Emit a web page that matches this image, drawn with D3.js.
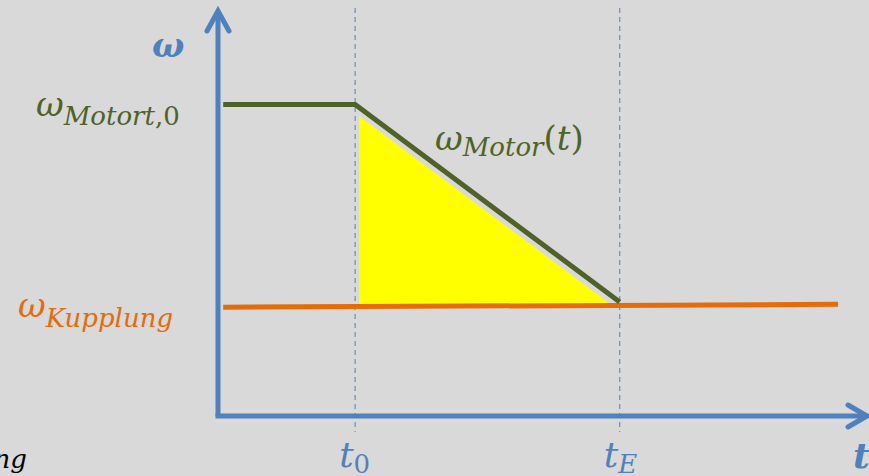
<!DOCTYPE html>
<html>
<head>
<meta charset="utf-8">
<script src="https://cdn.jsdelivr.net/npm/d3@7"></script>
<style>
  body { margin: 0; background: #d9d9d9; }
  text { font-family: "DejaVu Serif", serif; font-style: italic; }
</style>
</head>
<body>
<div id="chart"></div>
<script>
// Data (abstract units, 0..1 on both axes)
const markTimes = [0.211, 0.618];          // t0, tE
const markLabels = ["0", "E"];             // subscripts of t
const motorT = [0.008, 0.211, 0.618];
const motorW = [0.767, 0.767, 0.281];
const kupplungT = [0.008, 0.954];
const kupplungW = [0.268, 0.275];
const areaT = [0.217, 0.217, 0.606];
const areaW = [0.739, 0.273, 0.273];

const width = 869, height = 476;
const blue = "#4f81bd", green = "#4f6228", orange = "#e46c0a";

const svg = d3.select("#chart")
    .append("svg")
    .attr("width", width)
    .attr("height", height);

svg.append("rect").attr("width", width).attr("height", height).attr("fill", "#d9d9d9");

// scales
const x = d3.scaleLinear().domain([0, 1]).range([218, 868]);
const y = d3.scaleLinear().domain([0, 1]).range([416, 10]);

const line = d3.line().x(d => x(d[0])).y(d => y(d[1]));

// dashed guide lines at t0, tE
svg.selectAll("line.guide")
    .data(markTimes)
    .join("line")
    .attr("class", "guide")
    .attr("x1", d => x(d)).attr("x2", d => x(d))
    .attr("y1", 8).attr("y2", 432)
    .attr("stroke", "#7193c6")
    .attr("stroke-width", 1.3)
    .attr("stroke-dasharray", "5,4");

// yellow area
svg.append("path")
    .attr("d", line(d3.zip(areaT, areaW)) + "Z")
    .attr("fill", "#ffff00");

// Kupplung line
svg.append("path")
    .attr("d", line(d3.zip(kupplungT, kupplungW)))
    .attr("stroke", orange).attr("stroke-width", 5).attr("fill", "none");

// Motor line
svg.append("path")
    .attr("d", line(d3.zip(motorT, motorW)))
    .attr("stroke", green).attr("stroke-width", 5).attr("fill", "none")
    .attr("stroke-linejoin", "miter");

// axes
svg.append("path")
    .attr("d", `M${x(0)},${y(0)} L${x(0)},${y(1) + 2}`)
    .attr("stroke", blue).attr("stroke-width", 5).attr("fill", "none");
svg.append("path")
    .attr("d", `M${x(0) - 2.5},${y(0)} L${x(1) - 2},${y(0)}`)
    .attr("stroke", blue).attr("stroke-width", 5).attr("fill", "none");
// arrow heads
svg.append("path")
    .attr("d", `M${x(0) - 11},${y(1) + 21} L${x(0)},${y(1) + 1} L${x(0) + 11},${y(1) + 21}`)
    .attr("stroke", blue).attr("stroke-width", 5).attr("fill", "none")
    .attr("stroke-linecap", "round").attr("stroke-linejoin", "miter");
svg.append("path")
    .attr("d", `M${x(1) - 20},${y(0) - 11} L${x(1) - 1},${y(0)} L${x(1) - 20},${y(0) + 11}`)
    .attr("stroke", blue).attr("stroke-width", 5).attr("fill", "none")
    .attr("stroke-linecap", "round").attr("stroke-linejoin", "miter");

// axis titles
svg.append("text")
    .attr("x", 152).attr("y", 57)
    .attr("fill", blue).style("font-size", "34px").style("font-weight", "bold")
    .text("ω");
svg.append("text")
    .attr("x", 853).attr("y", 468)
    .attr("fill", blue).style("font-size", "36px").style("font-weight", "bold")
    .text("t");

// labels with subscripts; parts = [[text, upright?], ...]
function subLabel(px, py, main, subParts, color, dy, extra) {
    const t = svg.append("text").attr("x", px).attr("y", py).attr("fill", color);
    t.append("tspan").style("font-size", "34px").text(main);
    subParts.forEach((p, i) => {
        const s = t.append("tspan").style("font-size", "26px").text(p[0]);
        if (i === 0) s.attr("dy", dy);
        if (p[1]) s.style("font-style", "normal");
    });
    if (extra) {
        extra.forEach((p, i) => {
            const s = t.append("tspan").style("font-size", "34px").text(p[0]);
            if (i === 0) s.attr("dy", -dy);
            if (p[1]) s.style("font-style", "normal");
        });
    }
}

subLabel(36, 116, "ω", [["Motort", false], [",0", true]], green, 9);
subLabel(435, 150, "ω", [["Motor", false]], green, 6, [["(", true], ["t", false], [")", true]]);
subLabel(18, 317, "ω", [["Kupplung", false]], orange, 10);

// t0 / tE labels
markTimes.forEach((d, i) => {
    const t = svg.append("text").attr("x", x(d) - 16).attr("y", 467).attr("fill", blue);
    t.append("tspan").style("font-size", "36px").text("t");
    const s = t.append("tspan").style("font-size", "26px").attr("dy", 6).text(markLabels[i]);
    if (i === 0) s.style("font-style", "normal");
});

// cut-off text at bottom left
svg.append("text")
    .attr("x", 27).attr("y", 468).attr("text-anchor", "end")
    .attr("fill", "#000").style("font-size", "26px")
    .text("ng");
</script>
</body>
</html>
